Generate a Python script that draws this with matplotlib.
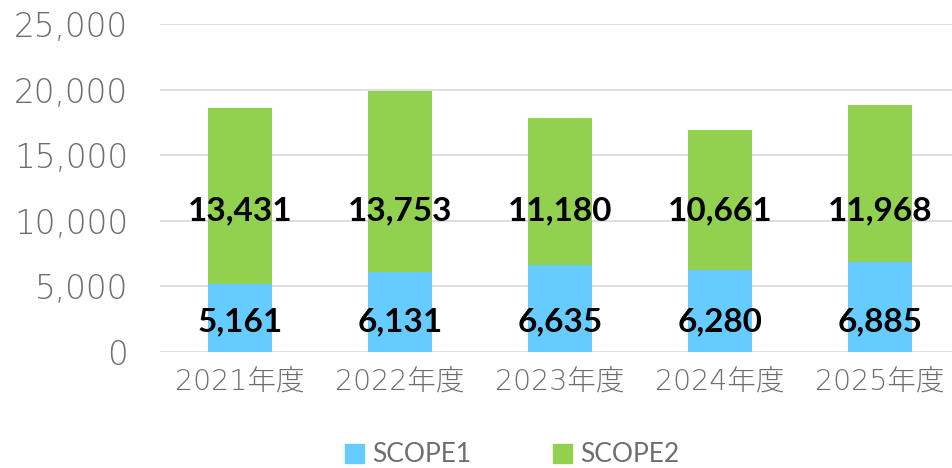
import matplotlib.pyplot as plt
from matplotlib.patches import Patch

# データ
years = ["2021年度", "2022年度", "2023年度", "2024年度", "2025年度"]
scope1 = [5161, 6131, 6635, 6280, 6885]
scope2 = [13431, 13753, 11180, 10661, 11968]

blue = "#66CCFF"
green = "#92D050"
gray = "#6E6E6E"
tick_font = ["DejaVu Sans", "Noto Sans CJK JP"]

fig = plt.figure(figsize=(9.52, 4.68), dpi=100)
ax = fig.add_axes([160 / 952, 1 - 352 / 468, 800 / 952, 328 / 468])

x = range(len(years))
ax.bar(x, scope1, width=0.4, color=blue, zorder=2)
ax.bar(x, scope2, width=0.4, bottom=scope1, color=green, zorder=2)

# ラベル（固定の高さに配置）
for i in x:
    ax.text(i, 2300, f"{scope1[i]:,}", ha="center", va="center",
            fontsize=24, fontweight="bold", family="Lato", color="black", zorder=3)
    ax.text(i, 10750, f"{scope2[i]:,}", ha="center", va="center",
            fontsize=24, fontweight="bold", family="Lato", color="black", zorder=3)

ax.set_xlim(-0.5, 4.5)
ax.set_ylim(0, 25000)
ax.set_yticks(range(0, 25001, 5000))
ax.set_yticklabels([f"{v:,}" for v in range(0, 25001, 5000)],
                   fontsize=23.5, color=gray, family=tick_font, fontweight="light")
ax.set_xticks(list(x))
ax.set_xticklabels(years, fontsize=20.5, color=gray, family=tick_font, fontweight="light")
ax.tick_params(axis="y", length=0, pad=23)
ax.tick_params(axis="x", length=0, pad=12)
ax.grid(axis="y", color="#D9D9D9", linewidth=1.2, zorder=0)
for s in ax.spines.values():
    s.set_visible(False)

handles = [Patch(color=blue, label="SCOPE1"), Patch(color=green, label="SCOPE2")]
fig.legend(handles=handles, loc="center", bbox_to_anchor=(512 / 952, 1 - 455 / 468),
           ncol=2, frameon=False, handlelength=0.72, handleheight=0.72,
           columnspacing=3.1, handletextpad=0.3, labelcolor=gray,
           prop={"family": "Lato", "size": 19})

fig.savefig("out.png", dpi=100)
